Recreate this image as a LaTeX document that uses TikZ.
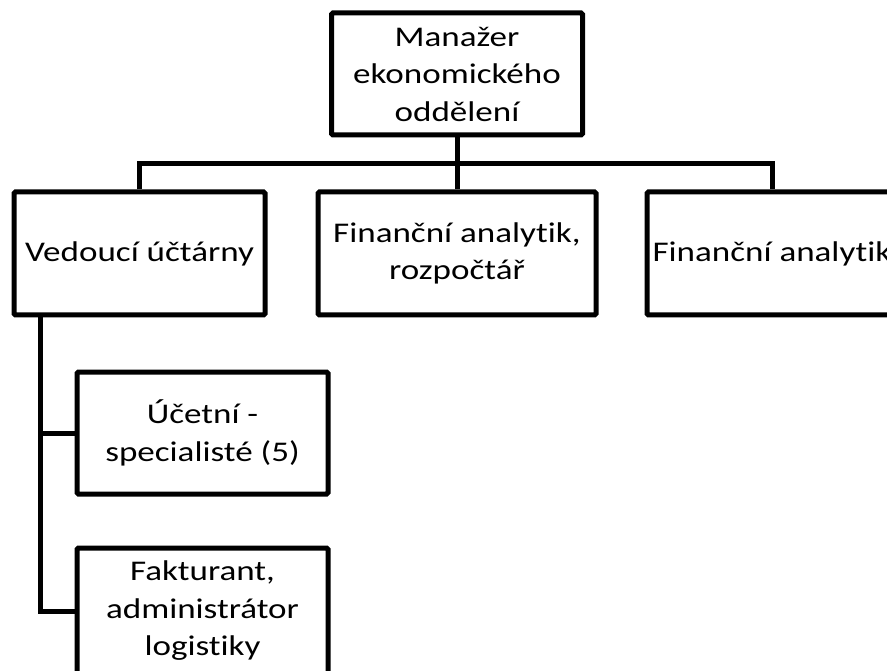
\documentclass[tikz,border=0pt]{standalone}
\usepackage{fontspec}
\setmainfont{Carlito}[FakeStretch=1.23, Ligatures=NoCommon]
\begin{document}
\begin{tikzpicture}[x=1pt,y=-1pt,
  orgbox/.style={draw=black, line width=5pt, rounded corners=1.5pt, fill=white,
    align=center, inner sep=0pt, font=\fontsize{28.5}{37.5}\selectfont},
  link/.style={draw=black, line width=5pt}]
  \useasboundingbox (0,0) rectangle (887,671);
  \clip (0,0) rectangle (887,671);

  % nodes
  \node[orgbox, minimum width=251pt, minimum height=122pt] (mgr) at (457,74)
    {Manažer\\ekonomického\\oddělení};
  \node[orgbox, minimum width=251pt, minimum height=123pt] (head) at (139.5,253.5)
    {Vedoucí účtárny};
  \node[orgbox, minimum width=278pt, minimum height=123pt] (budget) at (457,253.5)
    {Finanční analytik,\\rozpočtář};
  \node[orgbox, minimum width=250pt, minimum height=123pt] (analyst) at (772,253.5)
    {Finanční analytik};
  \node[orgbox, minimum width=251pt, minimum height=122pt] (acc) at (202.5,433)
    {Účetní -\\specialisté (5)};
  \node[orgbox, minimum width=251pt, minimum height=126pt] (inv) at (202.5,611)
    {Fakturant,\\administrátor\\logistiky};

  % connectors
  \coordinate (bus) at (457,164);
  \coordinate (spine) at (40,315);
  \draw[link] (mgr.south) -- (bus);
  \draw[link] (head.north) |- (bus) -| (analyst.north);
  \draw[link] (budget.north) -- (budget.north |- bus);
  \draw[link] (spine) |- (acc.west);
  \draw[link] (spine) |- (inv.west);
\end{tikzpicture}
\end{document}
